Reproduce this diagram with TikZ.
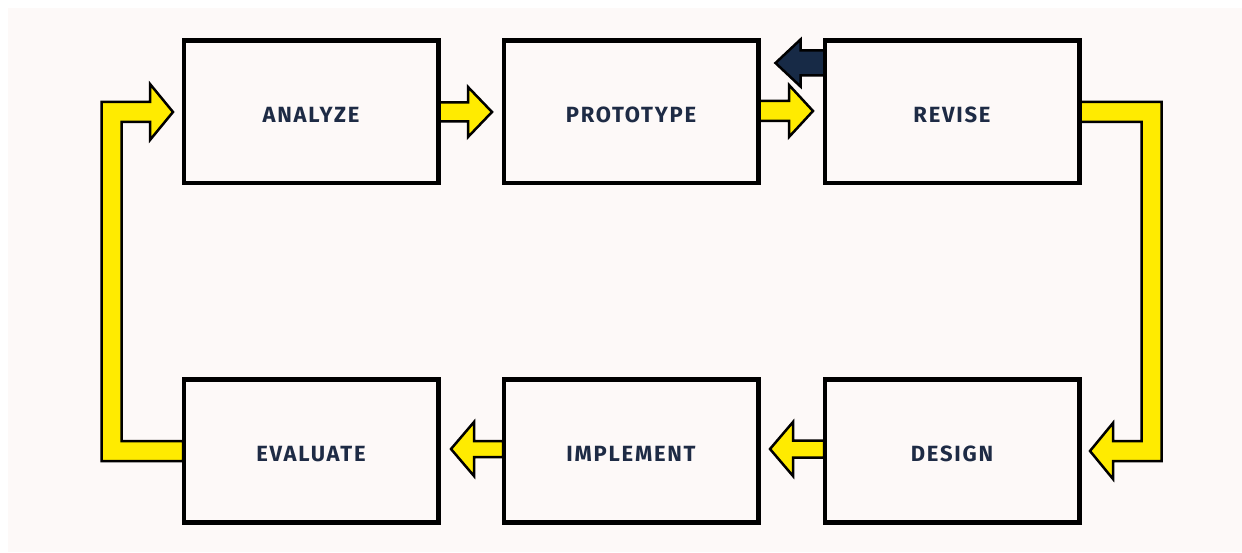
\documentclass[tikz,border=0pt]{standalone}
\usepackage{fontspec}
\setmainfont{Fira Sans}
\newfontfamily\labelfont[LetterSpace=8]{Fira Sans Bold}
\usetikzlibrary{calc}
\definecolor{bgcol}{HTML}{FDF9F8}
\definecolor{ylw}{HTML}{FFEB00}
\definecolor{navy}{HTML}{1E2B45}
\definecolor{navyarr}{HTML}{172A46}
\tikzset{
  stage/.style={draw=black, line width=3pt, fill=bgcol, minimum width=253pt, minimum height=141pt,
    inner sep=0pt, text=navy, text height=20.5pt, font=\labelfont\fontsize{22}{26}\selectfont},
  yblock/.style={draw=black, line width=2.5pt, fill=ylw, line join=miter},
  nblock/.style={draw=black, line width=2.5pt, fill=navyarr, line join=miter}
}
% horizontal block arrow: #1 style, #2 start point, #3 direction (1/-1), #4 length, #5 head length, #6 shaft half, #7 head half
\newcommand\hblockarrow[7]{%
  \draw[#1] let \p0=#2 in
    (\x0, \y0+#6pt) -- ({\x0+#3*(#4-#5)*1pt}, \y0+#6pt) -- ({\x0+#3*(#4-#5)*1pt}, \y0+#7pt)
    -- ({\x0+#3*#4*1pt}, \y0) -- ({\x0+#3*(#4-#5)*1pt}, \y0-#7pt) -- ({\x0+#3*(#4-#5)*1pt}, \y0-#6pt)
    -- (\x0, \y0-#6pt) -- cycle;}
\begin{document}
\begin{tikzpicture}[x=1pt,y=1pt]
\useasboundingbox (0,0) rectangle (1242,552);
\fill[white] (0,0) rectangle (1242,552);
\fill[bgcol] (8,0) rectangle (1242,544);

% stage nodes
\node[stage] (analyze)   at (311,440) {ANALYZE};
\node[stage] (prototype) at (631,440) {PROTOTYPE};
\node[stage] (revise)    at (952,440) {REVISE};
\node[stage] (evaluate)  at (311,101) {EVALUATE};
\node[stage] (implement) at (631,101) {IMPLEMENT};
\node[stage] (design)    at (952,101) {DESIGN};

% straight arrows
\hblockarrow{yblock}{(analyze.east)}{1}{53}{24}{9.5}{25}
\hblockarrow{yblock}{($(prototype.east)+(0,1)$)}{1}{54}{24}{10}{26}
\hblockarrow{yblock}{($(design.west)+(0,2)$)}{-1}{54}{23}{8.5}{27}
\hblockarrow{yblock}{($(implement.west)+(0,2)$)}{-1}{52}{23}{8}{27}

% navy arrow from revise towards prototype
\coordinate (navystart) at ($(revise.west)+(1.5,49)$);
\hblockarrow{nblock}{(navystart)}{-1}{50}{25}{12.5}{23.5}

% left elbow arrow: evaluate -> analyze
\draw[yblock] let \p1=(evaluate.west), \p2=(analyze.west) in
  (\x1, \y1-10pt) -- (\x1-81.5pt, \y1-10pt) -- (\x1-81.5pt, \y2+10pt) -- (\x2-33pt, \y2+10pt)
  -- (\x2-33pt, \y2+28pt) -- (\x2-10pt, \y2) -- (\x2-33pt, \y2-28pt) -- (\x2-33pt, \y2-10pt)
  -- (\x1-61.5pt, \y2-10pt) -- (\x1-61.5pt, \y1+10pt) -- (\x1, \y1+10pt) -- cycle;

% right elbow arrow: revise -> design
\draw[yblock] let \p1=(revise.east), \p2=(design.east) in
  (\x1, \y1+10pt) -- (\x1+81.5pt, \y1+10pt) -- (\x1+81.5pt, \y2-10pt) -- (\x2+33pt, \y2-10pt)
  -- (\x2+33pt, \y2-28pt) -- (\x2+10pt, \y2) -- (\x2+33pt, \y2+28pt) -- (\x2+33pt, \y2+10pt)
  -- (\x1+61.5pt, \y2+10pt) -- (\x1+61.5pt, \y1-10pt) -- (\x1, \y1-10pt) -- cycle;

% redraw box borders on top of arrow joins
\foreach \n in {analyze,prototype,revise,evaluate,implement,design}
  \draw[black, line width=3pt] (\n.south west) rectangle (\n.north east);
\end{tikzpicture}
\end{document}
